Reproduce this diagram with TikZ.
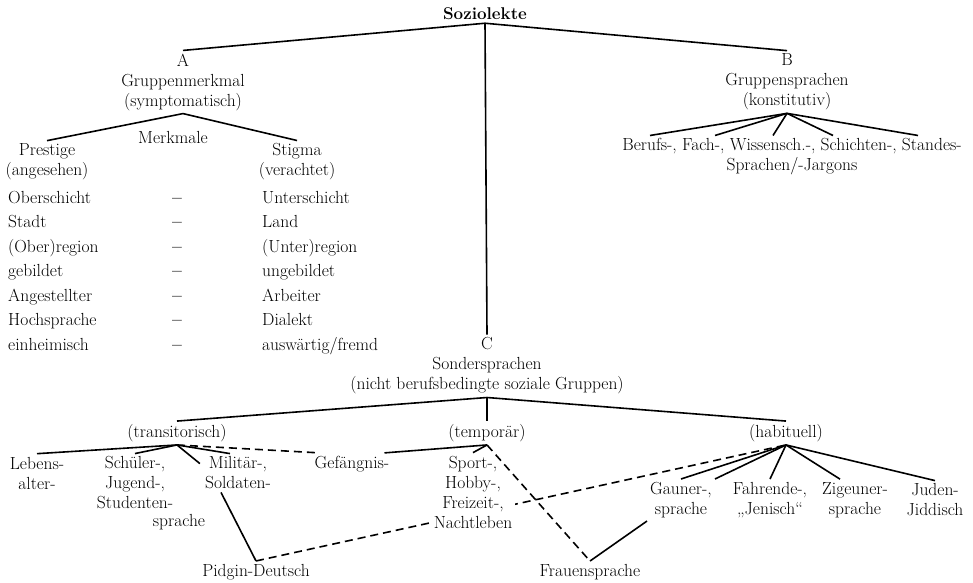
\documentclass[tikz,border=0pt]{standalone}
\usepackage{fontspec}
\usepackage{tikz}
\usetikzlibrary{calc,backgrounds}

\tikzset{
  txt/.style={inner sep=3pt, align=center, font=\fontsize{17.5}{20}\selectfont},
  zeile/.style={txt, anchor=west, text height=12pt, text depth=4pt},
  ast/.style={line width=1.6pt},
  gestr/.style={line width=1.6pt, dash pattern=on 8pt off 5pt}
}

\begin{document}
\begin{tikzpicture}[x=1pt, y=-1pt]
  \useasboundingbox (0,0) rectangle (973,582);

  % Oberste Ebene
  \node[txt, font=\fontsize{17}{20}\selectfont\bfseries\addfontfeature{LetterSpace=4}] (soz) at (485,14) {Soziolekte};

  % A: Gruppenmerkmal
  \node[txt] (grpA) at (183,82) {A\\Gruppenmerkmal\\(symptomatisch)};
  \node[txt] (merk) at (173,137) {Merkmale};
  \node[txt] (prest) at (47,162) {Prestige\\(angesehen)};
  \node[txt] (stig) at (297,162) {Stigma\\(verachtet)};
  \foreach \l/\r [count=\i] in {Oberschicht/Unterschicht, Stadt/Land, {(Ober)region}/{(Unter)region}, gebildet/ungebildet, Angestellter/Arbeiter, Hochsprache/Dialekt, einheimisch/{auswärtig/fremd}} {
    \node[zeile] (links\i) at (5,{199+24.5*(\i-1)}) {\l};
    \node[txt, text height=12pt, text depth=4pt] (strich\i) at (177,{199+24.5*(\i-1)}) {\textbf{–}};
    \node[zeile] (rechts\i) at (259,{199+24.5*(\i-1)}) {\r};
  }

  % B: Gruppensprachen
  \node[txt] (grpB) at (787,82) {B\\Gruppensprachen\\(konstitutiv)};
  \node[txt] (berufs) at (792,157) {Berufs-, Fach-, Wissensch.-, Schichten-, Standes-\\Sprachen/-Jargons};

  % C: Sondersprachen
  \node[txt] (sonder) at (487,366) {C\\Sondersprachen\\(nicht berufsbedingte soziale Gruppen)};
  \node[txt] (trans) at (177,433) {(transitorisch)};
  \node[txt] (temp) at (487,433) {(temporär)};
  \node[txt] (habit) at (786,433) {(habituell)};

  \node[txt] (lebens) at (37,473) {Lebens-\\alter-};
  \node[txt] (schuel) at (135,483) {Schüler-,\\Jugend-,\\Studenten-};
  \node[txt] (sprA) at (179,522) {sprache};
  \node[txt] (milit) at (238,473) {Militär-,\\Soldaten-};
  \node[txt] (gefaen) at (352,464) {Gefängnis-};
  \node[txt, fill=white] (sport) at (473,492) {Sport-,\\Hobby-,\\Freizeit-,\\Nachtleben};
  \node[txt] (pidgin) at (256,572) {Pidgin-Deutsch};
  \node[txt] (frauen) at (590,572) {Frauensprache};
  \node[txt] (gauner) at (681,500) {Gauner-,\\sprache};
  \node[txt] (fahr) at (770,500) {Fahrende-,\\„Jenisch“};
  \node[txt] (zig) at (855,500) {Zigeuner-\\sprache};
  \node[txt] (juden) at (935,500) {Juden-\\Jiddisch};

  % Verbindungen
  \draw[ast] (grpA.north) -- (soz.south) -- (grpB.north);
  \draw[ast] (soz.south) -- (sonder.north);
  \draw[ast] (prest.north) -- (grpA.south) -- (stig.north);
  \foreach \dx in {-142,-77,-19,41,126}
    \draw[ast] (grpB.south) -- ($(berufs.north)+(\dx,0)$);
  \draw[ast] (trans.north) -- (sonder.south) -- (habit.north);
  \draw[ast] (sonder.south) -- (temp.north);

  \draw[ast] (trans.south) -- (lebens.north);
  \draw[ast] (trans.south) -- (schuel.north);
  \draw[ast] (trans.south) -- ($(milit.north west)+(-2,10)$);
  \draw[ast] (trans.south) -- ($(milit.north)+(-8,0)$);
  \draw[gestr] (trans.south) -- ($(gefaen.north west)+(8,0)$);
  \draw[ast] (temp.south) -- ($(gefaen.north east)+(-8,0)$);
  \draw[ast] (temp.south) -- (sport.north);
  \draw[gestr] (temp.south) -- (frauen.north);
  \draw[ast] ($(milit.south)+(-17,0)$) -- (pidgin.north);
  \draw[ast] (frauen.north) -- (gauner.south west);

  \draw[ast] (habit.south) -- (gauner.north);
  \draw[ast] (habit.south) -- (gauner.north east);
  \draw[ast] (habit.south) -- (fahr.north);
  \draw[ast] (habit.south) -- ($(zig.north)+(-15,0)$);
  \draw[ast] (habit.south) -- (juden.north);

  \begin{scope}[on background layer]
    \draw[gestr] (pidgin.north) -- (habit.south);
  \end{scope}
\end{tikzpicture}
\end{document}
